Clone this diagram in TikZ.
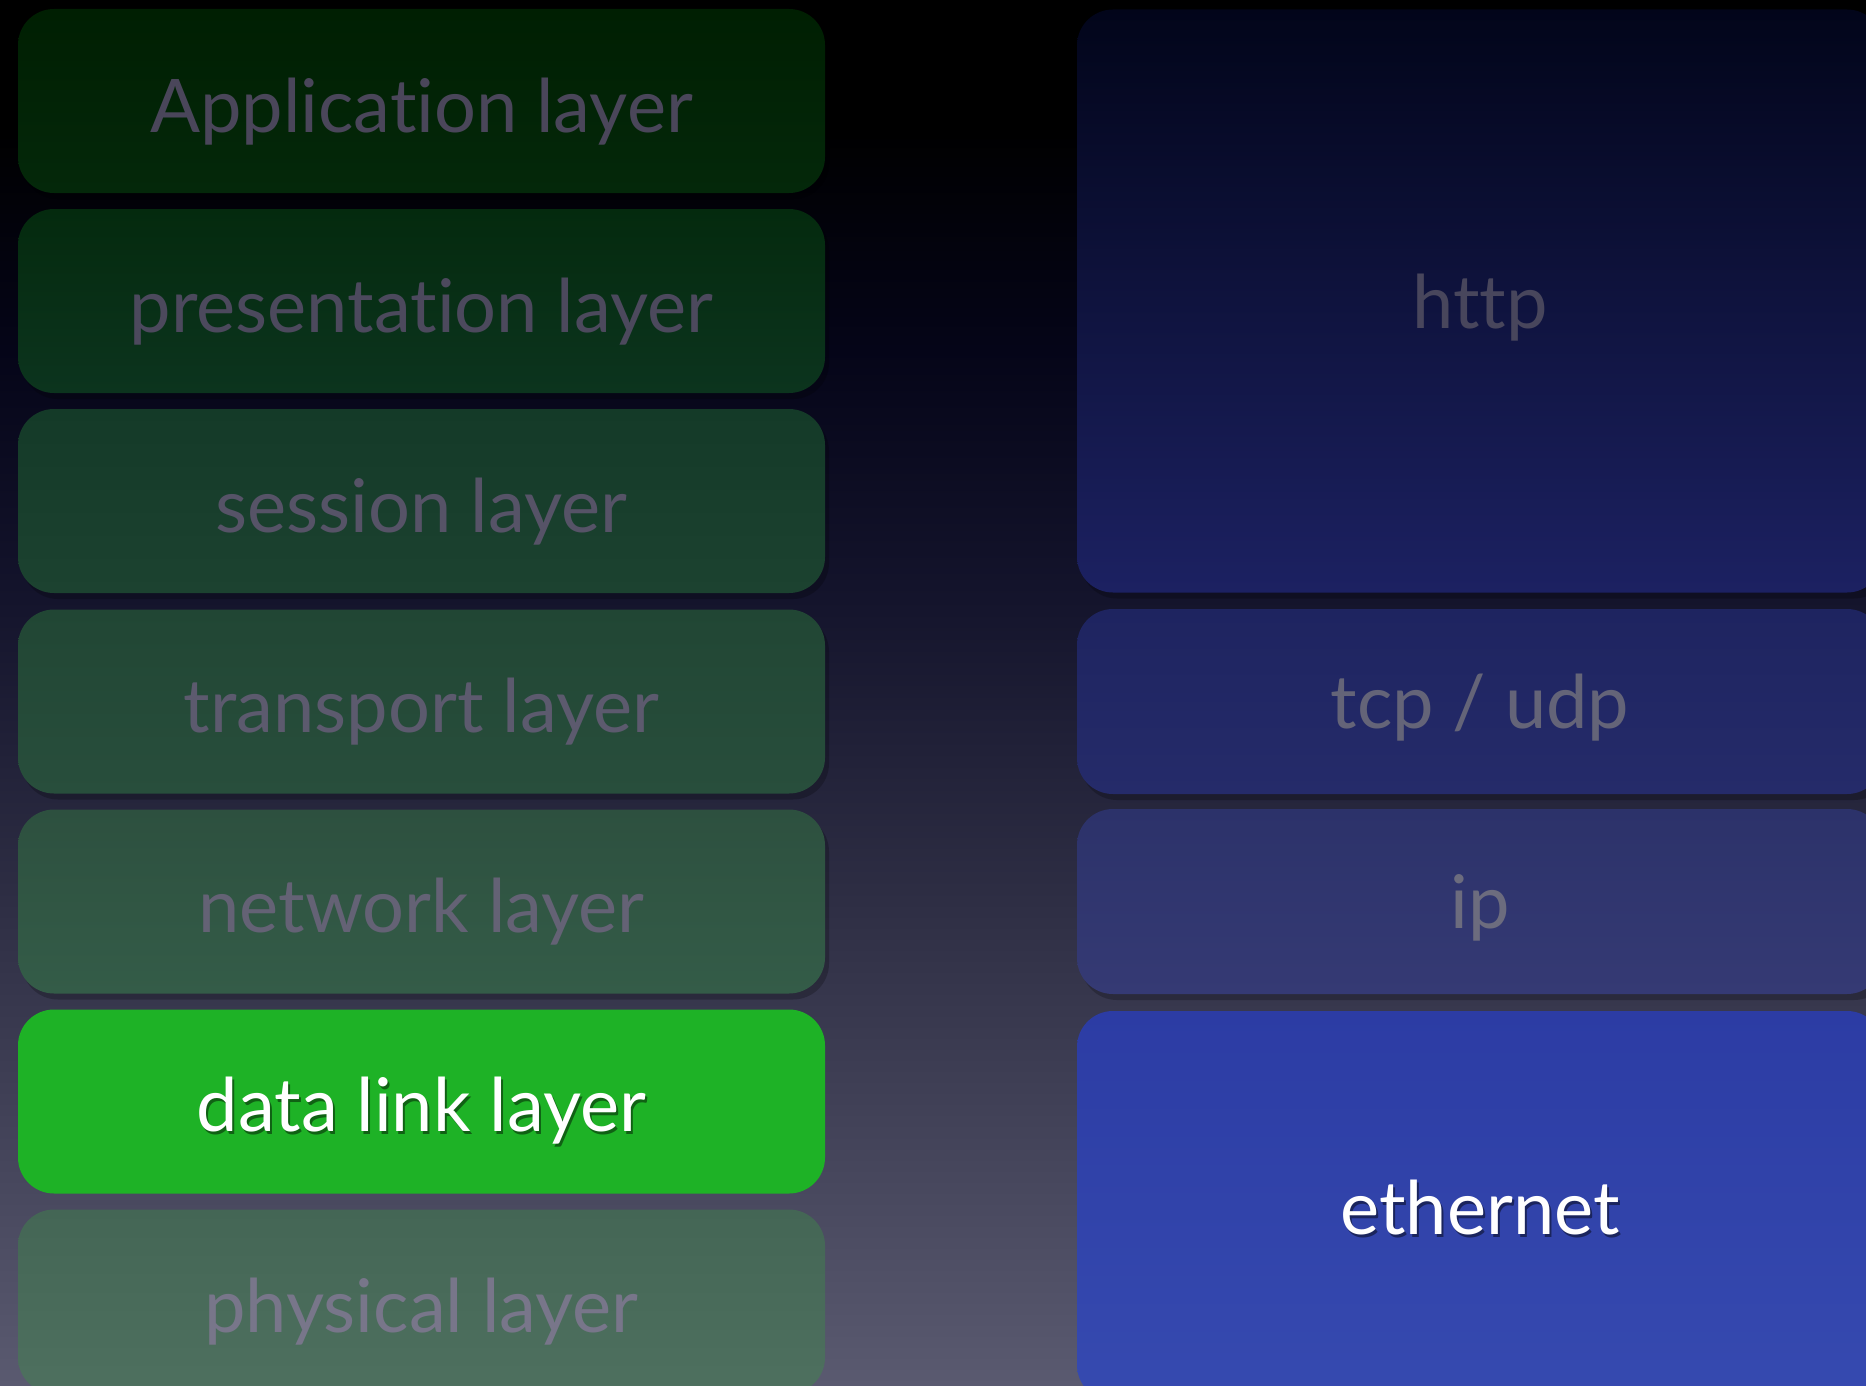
\documentclass[tikz,border=0pt]{standalone}
\usepackage{fontspec}
\setmainfont{Lato}[Ligatures={NoCommon}]
\definecolor{bgA}{RGB}{5,5,24}
\definecolor{bgB}{RGB}{20,20,44}
\definecolor{bgC}{RGB}{46,46,68}
\definecolor{bgbot}{RGB}{90,90,112}
\pgfdeclareverticalshading{bgshade}{100bp}{color(0bp)=(bgbot); color(25bp)=(bgbot); color(42.5bp)=(bgC); color(53.4bp)=(bgB); color(62.4bp)=(bgA); color(70.5bp)=(black); color(100bp)=(black)}
\definecolor{lgreen}{RGB}{30,178,38}
\definecolor{eblue}{RGB}{44,60,164}
\definecolor{ebluebot}{RGB}{54,74,176}
% green boxes
\definecolor{gAt}{RGB}{0,31,2}\definecolor{gAb}{RGB}{4,40,10}
\definecolor{gBt}{RGB}{4,42,14}\definecolor{gBb}{RGB}{12,52,30}
\definecolor{gCt}{RGB}{20,58,40}\definecolor{gCb}{RGB}{28,66,48}
\definecolor{gDt}{RGB}{33,70,52}\definecolor{gDb}{RGB}{40,78,60}
\definecolor{gEt}{RGB}{45,80,63}\definecolor{gEb}{RGB}{52,92,72}
\definecolor{gGt}{RGB}{68,102,85}\definecolor{gGb}{RGB}{78,112,95}
% blue boxes
\definecolor{hAt}{RGB}{2,5,26}\definecolor{hAm}{RGB}{6,15,76}\definecolor{hAb}{RGB}{28,33,98}
\definecolor{hBt}{RGB}{30,36,96}\definecolor{hBb}{RGB}{37,43,106}
\definecolor{hCt}{RGB}{44,50,106}\definecolor{hCb}{RGB}{53,58,116}
% text
\definecolor{tA}{RGB}{74,70,90}
\definecolor{tB}{RGB}{76,73,93}
\definecolor{tC}{RGB}{86,83,103}
\definecolor{tD}{RGB}{92,90,110}
\definecolor{tE}{RGB}{100,98,117}
\definecolor{tG}{RGB}{120,118,138}
\definecolor{tH}{RGB}{72,70,92}
\definecolor{tT}{RGB}{100,100,120}
\definecolor{tI}{RGB}{108,108,126}
\tikzset{
  boxshadow/.style={fill=black, fill opacity=0.22, rounded corners=36pt},
  gbox/.style={rectangle, rounded corners=36pt, minimum width=807pt, minimum height=184pt, inner sep=0pt, draw=none},
  bbox/.style={rectangle, rounded corners=36pt, minimum width=806pt, inner sep=0pt, draw=none},
  lbl/.style={anchor=base, font=\fontsize{74pt}{84pt}\selectfont, inner sep=0pt},
  shadowlbl/.style={lbl, text=black, text opacity=0.45}
}
\begin{document}
\begin{tikzpicture}[x=1pt,y=-1pt]
\useasboundingbox (0,0) rectangle (1866,1386);
\clip (0,0) rectangle (1866,1386);
\shade[shading=bgshade] (0,0) rectangle (1866,1386);
% soft shadows below boxes
\foreach \yy in {9,209,409,609.5,809.5} {
  \fill[boxshadow] (22,\yy+6) rectangle (829,\yy+190);
}
\fill[boxshadow] (1081,15.5) rectangle (1890,598.5);
\fill[boxshadow] (1081,615) rectangle (1890,800);
\fill[boxshadow] (1081,815) rectangle (1890,1000);
% left column
\node[gbox, top color=gAt, bottom color=gAb] (app) at (421.5,101) {};
\node[gbox, top color=gBt, bottom color=gBb] (pres) at (421.5,301) {};
\node[gbox, top color=gCt, bottom color=gCb] (sess) at (421.5,501) {};
\node[gbox, top color=gDt, bottom color=gDb] (trans) at (421.5,701.5) {};
\node[gbox, top color=gEt, bottom color=gEb] (net) at (421.5,901.5) {};
\node[gbox, fill=lgreen] (dl) at (421.5,1101.5) {};
\node[gbox, top color=gGt, bottom color=gGb] (phys) at (421.5,1301.5) {};
% right column
\node[bbox, minimum height=583pt, top color=hAt, middle color=hAm, bottom color=hAb] (http) at (1480,301) {};
\node[bbox, minimum height=185pt, top color=hBt, bottom color=hBb] (tcp) at (1480,701.5) {};
\node[bbox, minimum height=185pt, top color=hCt, bottom color=hCb] (ip) at (1480,901.5) {};
\node[bbox, minimum height=390pt, top color=eblue, bottom color=ebluebot] (eth) at (1480,1206) {};
% labels
\node[lbl, text=tA] (tapp) at ([yshift=-31pt]app.center) {Application layer};
\node[lbl, text=tB] (tpres) at ([yshift=-31pt]pres.center) {presentation layer};
\node[lbl, text=tC] (tsess) at ([yshift=-31pt]sess.center) {session layer};
\node[lbl, text=tD] (ttrans) at ([yshift=-31pt]trans.center) {transport layer};
\node[lbl, text=tE] (tnet) at ([yshift=-31pt]net.center) {network layer};
\node[shadowlbl] (sdl) at ([xshift=2pt,yshift=-33pt]dl.center) {data link layer};
\node[lbl, text=white] (tdl) at ([yshift=-30pt]dl.center) {data link layer};
\node[lbl, text=tG] (tphys) at ([yshift=-31pt]phys.center) {physical layer};
\node[lbl, text=tH] (thttp) at ([yshift=-27pt]http.center) {http};
\node[lbl, text=tT] (ttcp) at ([yshift=-27pt]tcp.center) {tcp / udp};
\node[lbl, text=tI] (tip) at ([yshift=-27pt]ip.center) {ip};
\node[shadowlbl] (seth) at ([xshift=2pt,yshift=-31pt]eth.center) {ethernet};
\node[lbl, text=white] (teth) at ([yshift=-28pt]eth.center) {ethernet};
\end{tikzpicture}
\end{document}
